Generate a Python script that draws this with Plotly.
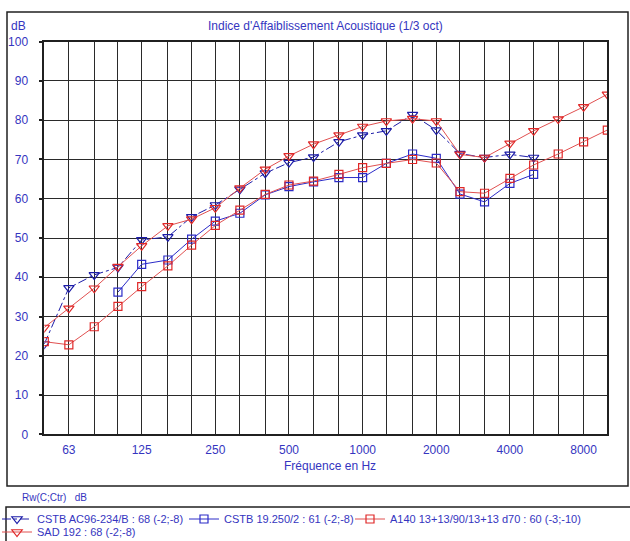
import math
import plotly.graph_objects as go

W, H = 630, 541

# ---------------- data ----------------
freqs = [50, 63, 80, 100, 125, 160, 200, 250, 315, 400, 500, 630, 800, 1000,
         1250, 1600, 2000, 2500, 3150, 4000, 5000, 6300, 8000, 10000]
tick_labels = {63: "63", 125: "125", 250: "250", 500: "500", 1000: "1000",
               2000: "2000", 4000: "4000", 8000: "8000"}
y_ticks = list(range(0, 101, 10))

cstb_ac96_f = freqs[0:21]
cstb_ac96 = [23.0, 37.3, 40.6, 42.5, 49.5, 50.3, 55.4, 58.4, 62.4, 66.5, 69.2,
             70.6, 74.5, 76.2, 77.3, 81.4, 77.5, 71.5, 70.5, 71.3, 70.5]

cstb_19250_f = freqs[3:21]
cstb_19250 = [36.2, 43.3, 44.4, 49.7, 54.3, 56.3, 61.0, 63.1, 64.3, 65.4, 65.4,
              69.0, 71.4, 70.3, 61.2, 59.2, 63.9, 66.2]

a140_f = freqs
a140 = [23.6, 22.8, 27.4, 32.6, 37.6, 42.9, 48.2, 53.2, 57.1, 61.1, 63.5, 64.5,
        66.2, 67.9, 69.0, 70.0, 69.1, 61.8, 61.4, 65.2, 68.6, 71.4, 74.5, 77.5]

sad192_f = freqs
sad192 = [27.2, 32.1, 37.2, 42.7, 48.0, 53.1, 54.8, 57.7, 62.7, 67.5, 70.9, 73.9,
          76.2, 78.4, 79.8, 80.4, 79.8, 71.3, 70.5, 74.1, 77.3, 80.3, 83.4, 86.6]

names = ["CSTB AC96-234/B : 68 (-2;-8)",
         "CSTB 19.250/2 : 61 (-2;-8)",
         "A140 13+13/90/13+13 d70 : 60 (-3;-10)",
         "SAD 192 : 68 (-2;-8)"]

# ---------------- styling ----------------
TXT = "#3535c0"
FONT = "Liberation Sans, Arial, sans-serif"
BLUE_DARK = "#1c1ca8"
BLUE = "#2c2cc8"
RED = "#e02828"
RED_LINE = "#e05050"
GRID = "#2a2a2a"


def px_x(p):
    return p / W


def px_y(p):
    return 1 - p / H


plot_l, plot_r, plot_t, plot_b = 44.3, 607.3, 41.7, 434.3

fig = go.Figure()

fig.add_trace(go.Scatter(
    x=cstb_ac96_f, y=cstb_ac96, name=names[0], mode="lines+markers",
    line=dict(color=BLUE_DARK, width=1, dash="dashdot"),
    marker=dict(symbol="triangle-down-open", size=9, color=BLUE_DARK,
                line=dict(width=1.2)),
    legend="legend"))
fig.add_trace(go.Scatter(
    x=cstb_19250_f, y=cstb_19250, name=names[1], mode="lines+markers",
    line=dict(color=BLUE, width=1),
    marker=dict(symbol="square-open", size=8, color=BLUE, line=dict(width=1.2)),
    legend="legend2"))
fig.add_trace(go.Scatter(
    x=a140_f, y=a140, name=names[2], mode="lines+markers",
    line=dict(color=RED_LINE, width=1),
    marker=dict(symbol="square-open", size=8, color=RED, line=dict(width=1.2)),
    legend="legend3"))
fig.add_trace(go.Scatter(
    x=sad192_f, y=sad192, name=names[3], mode="lines+markers",
    line=dict(color=RED_LINE, width=1),
    marker=dict(symbol="triangle-down-open", size=9, color=RED,
                line=dict(width=1.2)),
    legend="legend4"))

fig.update_xaxes(
    type="log",
    range=[math.log10(freqs[0]), math.log10(freqs[-1])],
    domain=[px_x(plot_l), px_x(plot_r)],
    tickmode="array",
    tickvals=freqs,
    ticktext=[tick_labels.get(f, "") for f in freqs],
    showgrid=True, gridcolor=GRID, gridwidth=1.2,
    showline=True, linecolor="#202020", linewidth=1.5, mirror=True,
    ticks="", zeroline=False,
    tickfont=dict(family=FONT, size=12, color=TXT),
    ticklabelstandoff=4,
    automargin=False,
    fixedrange=True,
)
fig.update_yaxes(
    range=[0, 100],
    domain=[px_y(plot_b), px_y(plot_t)],
    tickmode="array",
    tickvals=y_ticks,
    ticktext=[str(v) for v in y_ticks],
    showgrid=True, gridcolor=GRID, gridwidth=1.2,
    showline=True, linecolor="#202020", linewidth=1.5, mirror=True,
    ticks="outside", ticklen=4, tickcolor="#202020", tickwidth=1.5,
    zeroline=False,
    tickfont=dict(family=FONT, size=12, color=TXT),
    ticklabelstandoff=8,
    automargin=False,
    fixedrange=True,
)

legend_common = dict(
    bgcolor="rgba(0,0,0,0)", borderwidth=0,
    font=dict(family=FONT, size=11, color=TXT),
    orientation="h", xanchor="left", yanchor="middle",
    itemwidth=30, tracegroupgap=0,
    itemclick=False, itemdoubleclick=False,
)
row1, row2 = 519, 532
fig.update_layout(
    legend=dict(x=px_x(-3), y=px_y(row1), **legend_common),
    legend2=dict(x=px_x(184), y=px_y(row1), **legend_common),
    legend3=dict(x=px_x(350), y=px_y(row1), **legend_common),
    legend4=dict(x=px_x(-3), y=px_y(row2), **legend_common),
)

shapes = [
    # outer chart frame
    dict(type="rect", xref="paper", yref="paper",
         x0=px_x(7), x1=px_x(628), y0=px_y(486), y1=px_y(12),
         line=dict(color="#202020", width=1.5)),
    # legend frame
    dict(type="rect", xref="paper", yref="paper",
         x0=px_x(6), x1=px_x(640), y0=px_y(550), y1=px_y(507),
         line=dict(color="#202020", width=1.5)),
]

annotations = [
    dict(text="Indice d'Affaiblissement Acoustique (1/3 oct)",
         x=px_x(325), y=px_y(26), xref="paper", yref="paper",
         showarrow=False, xanchor="center", yanchor="middle",
         font=dict(family=FONT, size=12, color=TXT)),
    dict(text="dB", x=px_x(9), y=px_y(26), xref="paper", yref="paper",
         showarrow=False, xanchor="left", yanchor="middle",
         font=dict(family=FONT, size=12, color=TXT)),
    dict(text="Fréquence en Hz", x=px_x(330), y=px_y(466), xref="paper",
         yref="paper", showarrow=False, xanchor="center", yanchor="middle",
         font=dict(family=FONT, size=12, color=TXT)),
    dict(text="Rw(C;Ctr)   dB", x=px_x(20), y=px_y(497), xref="paper",
         yref="paper", showarrow=False, xanchor="left", yanchor="middle",
         font=dict(family=FONT, size=10, color=TXT)),
]

fig.update_layout(
    width=W, height=H, autosize=False,
    margin=dict(l=0, r=0, t=0, b=0, pad=0, autoexpand=False),
    paper_bgcolor="white", plot_bgcolor="white",
    shapes=shapes, annotations=annotations,
    showlegend=True,
)

fig.write_html("out.html", config={"displayModeBar": False},
               post_script="document.body.style.margin='0';"
                           "document.body.style.overflow='hidden';")
